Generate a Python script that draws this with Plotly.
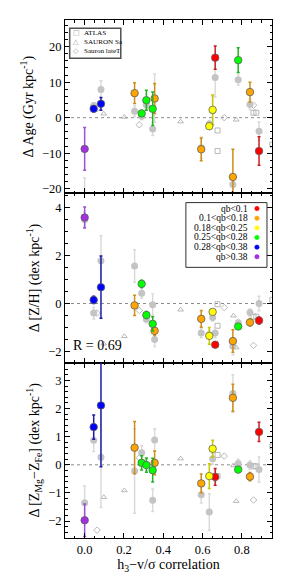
import plotly.graph_objects as go
from plotly.subplots import make_subplots

# ---------------- data ----------------
h3_corr = [0.0, 0.046, 0.083, 0.254, 0.290, 0.314, 0.346, 0.356,
           0.593, 0.634, 0.651, 0.664, 0.754, 0.781, 0.841, 0.887]
qb_class = [5, 4, 4, 1, 3, 3, 3, 1, 1, 2, 2, 0, 1, 3, 1, 0]
class_labels = ["qb<0.1", "0.1<qb<0.18", "0.18<qb<0.25",
                "0.25<qb<0.28", "0.28<qb<0.38", "qb>0.38"]
class_fill = ["#ff0000", "#ffa500", "#ffff00", "#00ff00", "#0000ff", "#a030e0"]
class_bar = ["#c82020", "#cf8e18", "#c8c800", "#20b420", "#1c1ca8", "#9a52d2"]

# colored points
age = [-8.8, 2.5, 3.9, 6.9, 1.2, 4.9, 2.5, 5.4, -8.9, -2.4, 2.2, 16.9, -16.7, 16.2, 7.2, -9.4]
age_err = [6.0, 0.8, 1.8, 2.9, 0.8, 2.8, 4.7, 4.2, 3.2, 0.8, 4.2, 3.3, 7.8, 3.5, 2.8, 4.0]
zh = [3.59, 0.15, 0.68, -0.08, 0.82, -0.48, -0.85, -1.14, -0.64, -1.35, -0.35, -1.72, -1.57, -0.96, -0.79, -0.71]
zh_err = [0.44, 0.15, 1.3, 0.42, 0.15, 0.15, 0.3, 0.2, 0.35, 0.35, 0.1, 0.1, 0.47, 0.1, 0.15, 0.15]
mgfe = [-1.97, 1.34, 2.11, 0.61, 0.07, -0.01, -0.19, 0.07, -0.66, -0.4, 0.57, -0.43, 2.38, -0.17, -0.42, 1.17]
mgfe_err = [0.58, 0.43, 2.18, 0.93, 0.25, 0.25, 0.42, 0.42, 0.33, 0.44, 0.3, 0.3, 0.48, 0.1, 0.15, 0.34]

# grey (alternative measurement) points
age_g = [-24.0, 3.4, 7.9, 1.8, 0.4, 3.6, -3.2, 5.5, -8.5, -1.8, 2.0, 11.3, -18.8, 10.7, 3.7, -3.8]
age_g_err = [7.0, 0.8, 2.5, 1.5, 1.0, 1.2, 1.8, 6.8, 3.0, 1.0, 4.0, 5.5, 2.0, 1.5, 1.5, 2.6]
zh_g = [3.5, -0.4, 1.78, 1.57, 0.43, -0.66, -0.05, -1.5, -1.23, -1.3, -0.58, -1.23, -1.79, -0.8, -0.38, 0.0]
zh_g_err = [0.3, 0.25, 1.05, 0.68, 0.2, 0.15, 0.45, 0.3, 0.2, 0.2, 0.15, 0.2, 0.35, 0.1, 0.15, 0.3]
mgfe_g = [-1.35, 0.87, 0.27, -0.22, 0.43, 0.0, -1.26, 0.88, -1.06, -1.68, 0.22, -0.4, 2.53, 0.05, -0.01, -0.17]
mgfe_g_err = [0.6, 0.4, 1.78, 1.5, 0.25, 0.2, 0.4, 0.4, 0.3, 0.65, 0.2, 0.2, 0.67, 0.15, 0.15, 0.45]

# comparison samples
atlas_x = [0.676, 0.676, 0.859, 0.873, 0.955]
atlas_age = [-3.6, -9.4, 1.4, 1.4, -7.6]
atlas_zh = [-0.03, -0.93, -0.55, -0.55, 0.15]
atlas_mgfe = [0.35, -0.4, -0.05, -0.05, 0.65]
sa_x = [0.097, 0.202, 0.488, 0.757, 0.771]
sa_age = [1.1, 0.2, -1.1, -16.5, -0.6]
sa_zh = [-1.68, -1.37, -0.26, -0.51, -1.84]
sa_mgfe = [-1.15, -0.91, 0.22, -0.02, -1.29]
lt_x = [0.063, 0.278, 0.710, 0.859]
lt_age = [2.6, -2.0, 0.0, 3.5]
lt_zh = [-0.4, -0.29, -0.17, -1.75]
lt_mgfe = [-2.32, 0.25, 0.31, -1.25]

panels = [
    dict(y=age, e=age_err, yg=age_g, eg=age_g_err, ya=atlas_age, ys=sa_age, yl=lt_age),
    dict(y=zh, e=zh_err, yg=zh_g, eg=zh_g_err, ya=atlas_zh, ys=sa_zh, yl=lt_zh),
    dict(y=mgfe, e=mgfe_err, yg=mgfe_g, eg=mgfe_g_err, ya=atlas_mgfe, ys=sa_mgfe, yl=lt_mgfe),
]

FONT = "Liberation Serif, Times New Roman, serif"
fig = make_subplots(rows=3, cols=1, shared_xaxes=True, vertical_spacing=0)

open_col = "#b0b0b0"
for r, p in enumerate(panels, start=1):
    # open comparison markers
    for xs, ys, sym, sz in [(atlas_x, p["ya"], "square-open", 5),
                            (sa_x, p["ys"], "triangle-up-open", 5),
                            (lt_x, p["yl"], "diamond-open", 5)]:
        fig.add_trace(go.Scatter(x=xs, y=ys, mode="markers", showlegend=False,
                                 marker=dict(symbol=sym, size=sz, color=open_col,
                                             line=dict(width=0.9, color=open_col))),
                      row=r, col=1)
    # grey points
    fig.add_trace(go.Scatter(x=h3_corr, y=p["yg"], mode="markers", showlegend=False,
                             marker=dict(size=7, color="#c4c4c4"),
                             error_y=dict(type="data", array=p["eg"], color="#d9d9d9",
                                          thickness=1.4, width=1.5)),
                  row=r, col=1)
    # colored points by qb class
    for c in range(6):
        idx = [i for i, q in enumerate(qb_class) if q == c]
        fig.add_trace(go.Scatter(
            x=[h3_corr[i] for i in idx], y=[p["y"][i] for i in idx],
            mode="markers", showlegend=False,
            marker=dict(size=7.5, color=class_fill[c], line=dict(width=0.8, color="#606060")),
            error_y=dict(type="data", array=[p["e"][i] for i in idx], color=class_bar[c],
                         thickness=1.5, width=1.5)),
            row=r, col=1)

axis_common = dict(showline=True, linecolor="black", linewidth=1, mirror="allticks",
                   ticks="inside", ticklen=5, tickwidth=1, tickcolor="black",
                   showgrid=False, zeroline=False,
                   tickfont=dict(family=FONT, size=12.5, color="black"))

for r in (1, 2, 3):
    fig.update_xaxes(range=[-0.1, 0.953], tick0=0, dtick=0.2,
                     minor=dict(ticks="inside", ticklen=2.5, dtick=0.05, tickcolor="black"),
                     showticklabels=(r == 3), row=r, col=1, **axis_common)

fig.update_xaxes(title=dict(text="h<sub>3</sub>−v/σ correlation",
                            font=dict(family=FONT, size=14, color="black"), standoff=2),
                 tickformat=".1f", row=3, col=1)

yspecs = [
    dict(rng=[-21.3, 27.5], dt=10, mdt=2, dom=[0.6654, 1.0],
         title="Δ Age (Gyr kpc<sup>-1</sup>)"),
    dict(rng=[-2.47, 4.6], dt=2, mdt=0.5, dom=[0.3385, 0.6654],
         title="Δ [Z/H] (dex kpc<sup>-1</sup>)"),
    dict(rng=[-2.6, 3.63], dt=1, mdt=0.2, dom=[0.0, 0.3385],
         title="Δ [Z<sub>Mg</sub>−Z<sub>Fe</sub>] (dex kpc<sup>-1</sup>)"),
]
for r, s in enumerate(yspecs, start=1):
    fig.update_yaxes(range=s["rng"], tick0=0, dtick=s["dt"], domain=s["dom"],
                     minor=dict(ticks="inside", ticklen=2.5, dtick=s["mdt"], tickcolor="black"),
                     title=dict(text=s["title"], font=dict(family=FONT, size=14, color="black"),
                                standoff=5),
                     row=r, col=1, **axis_common)

shapes = []
# zero lines
for yref in ("y", "y2", "y3"):
    shapes.append(dict(type="line", xref="x domain", yref=yref, x0=0, x1=1, y0=0, y1=0,
                       line=dict(color="#8c8c8c", width=1, dash="dot"), layer="below"))

annotations = []
# legend 1 (comparison samples), in paper coordinates
shapes.append(dict(type="rect", xref="paper", yref="paper", x0=0.0227, x1=0.2695,
                   y0=0.9263, y1=0.984, line=dict(color="#505050", width=1.5),
                   fillcolor="white", layer="above"))
leg1 = [("□", "ATLAS"), ("△", "SAURON Sa"), ("◇", "Sauron lateT")]
leg1_y = [0.9744, 0.9571, 0.9404]
for (sym, lab), yy in zip(leg1, leg1_y):
    annotations.append(dict(xref="paper", yref="paper", x=0.0547, y=yy, text=sym,
                            showarrow=False, xanchor="center", yanchor="middle",
                            font=dict(family="DejaVu Sans", size=7, color="#999999")))
    annotations.append(dict(xref="paper", yref="paper", x=0.083, y=yy, text=lab,
                            showarrow=False, xanchor="left", yanchor="middle",
                            font=dict(family=FONT, size=7.1, color="black")))

# legend 2 (qb classes)
shapes.append(dict(type="rect", xref="paper", yref="paper", x0=0.584, x1=0.9758,
                   y0=0.5225, y1=0.6475, line=dict(color="#303030", width=1),
                   fillcolor="white", layer="above"))
leg2_y = [0.636, 0.6173, 0.5987, 0.5802, 0.5615, 0.5429]
for c, yy in enumerate(leg2_y):
    annotations.append(dict(xref="paper", yref="paper", x=0.8916, y=yy, text=class_labels[c],
                            showarrow=False, xanchor="right", yanchor="middle",
                            font=dict(family=FONT, size=9.5, color="black")))
    shapes.append(dict(type="circle", xref="paper", yref="paper",
                       xsizemode="pixel", ysizemode="pixel",
                       xanchor=0.9274, yanchor=yy, x0=-2.2, x1=2.2, y0=-2.2, y1=2.2,
                       fillcolor=class_fill[c], line=dict(color=class_fill[c], width=0.5),
                       layer="above"))

annotations.append(dict(xref="paper", yref="paper", x=0.030, y=0.372, text="R = 0.69",
                        showarrow=False, xanchor="left", yanchor="middle",
                        font=dict(family=FONT, size=14, color="black")))

fig.update_layout(width=291, height=581, margin=dict(l=65, r=19.3, t=20, b=41),
                  paper_bgcolor="white", plot_bgcolor="white", showlegend=False,
                  shapes=shapes, annotations=annotations,
                  font=dict(family=FONT, color="black"))

fig.write_html("out.html", config={"displayModeBar": False},
               post_script="document.body.style.margin='0';document.body.style.overflow='hidden';")
